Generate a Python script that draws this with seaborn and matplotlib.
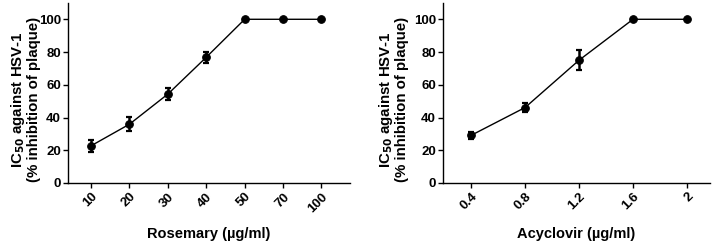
import matplotlib
matplotlib.use("Agg")
import matplotlib.pyplot as plt
import seaborn as sns
import pandas as pd
import numpy as np

# Data
rosemary_conc = ["10", "20", "30", "40", "50", "70", "100"]
rosemary_mean = [22.7, 35.9, 54.3, 76.8, 100, 100, 100]
rosemary_sd = [3.6, 4.2, 3.6, 3.4, 0, 0, 0]

acyclovir_conc = [0.4, 0.8, 1.2, 1.6, 2.0]
acyclovir_labels = ["0.4", "0.8", "1.2", "1.6", "2"]
acyclovir_mean = [29.1, 46.1, 75.0, 100, 100]
acyclovir_sd = [2.0, 2.9, 6.0, 0, 0]

yticks = [0, 20, 40, 60, 80, 100]

sns.set_style("ticks")
plt.rcParams['font.family'] = ['Liberation Sans', 'DejaVu Sans']
plt.rcParams['font.weight'] = 'bold'
plt.rcParams['axes.linewidth'] = 1.0
plt.rcParams['xtick.major.width'] = 1.0
plt.rcParams['ytick.major.width'] = 1.0
plt.rcParams['xtick.major.size'] = 3.5
plt.rcParams['ytick.major.size'] = 3.5
plt.rcParams['xtick.color'] = 'black'
plt.rcParams['ytick.color'] = 'black'
plt.rcParams['axes.edgecolor'] = 'black'
plt.rcParams['axes.labelcolor'] = 'black'
plt.rcParams['text.color'] = 'black'

fig = plt.figure(figsize=(7.2, 2.43), dpi=100)
ax1 = fig.add_axes([0.0944, 0.247, 0.3916, 0.741])
ax2 = fig.add_axes([0.615, 0.247, 0.371, 0.741])

ylabel = "IC$_{\\mathbf{50}}$ against HSV-1\n(% inhibition of plaque)"
fs_tick = 9.5
fs_xlabel = 10.5
fs_ylabel = 10.8

# Left panel (categorical)
df1 = pd.DataFrame({"conc": rosemary_conc, "mean": rosemary_mean, "sd": rosemary_sd})
pos1 = np.arange(len(rosemary_conc))
df1["pos"] = pos1
sns.lineplot(data=df1, x="pos", y="mean", ax=ax1, color="black", marker="o",
             markersize=5.5, markeredgecolor="black", linewidth=1.0)
ax1.errorbar(df1["pos"], df1["mean"], yerr=df1["sd"], fmt="none", ecolor="black",
             elinewidth=1.8, capsize=2.5, capthick=1.6)
ax1.set_xticks(pos1)
ax1.set_xticklabels(rosemary_conc, rotation=45, fontsize=fs_tick, fontweight="bold",
                    ha="right", rotation_mode="anchor")
ax1.set_xlim(-0.6, len(rosemary_conc) - 1 + 0.74)
ax1.set_xlabel("Rosemary (\u00b5g/ml)", fontsize=fs_xlabel, fontweight="bold")

# Right panel (numeric)
df2 = pd.DataFrame({"conc": acyclovir_conc, "mean": acyclovir_mean, "sd": acyclovir_sd})
sns.lineplot(data=df2, x="conc", y="mean", ax=ax2, color="black", marker="o",
             markersize=5.5, markeredgecolor="black", linewidth=1.0)
ax2.errorbar(df2["conc"], df2["mean"], yerr=df2["sd"], fmt="none", ecolor="black",
             elinewidth=1.8, capsize=2.5, capthick=1.6)
ax2.set_xticks(acyclovir_conc)
ax2.set_xticklabels(acyclovir_labels, rotation=45, fontsize=fs_tick, fontweight="bold",
                    ha="right", rotation_mode="anchor")
ax2.set_xlim(0.19, 2.17)
ax2.set_xlabel("Acyclovir (\u00b5g/ml)", fontsize=fs_xlabel, fontweight="bold")

for ax in (ax1, ax2):
    ax.set_ylim(0, 110)
    ax.set_yticks(yticks)
    ax.set_yticklabels([str(t) for t in yticks], fontsize=fs_tick, fontweight="bold")
    ax.set_ylabel(ylabel, fontsize=fs_ylabel, fontweight="bold", linespacing=1.0,
                  color="black")
    ax.xaxis.label.set_color("black")
    ax.spines["top"].set_visible(False)
    ax.spines["right"].set_visible(False)
    ax.tick_params(axis="x", pad=2)
    ax.tick_params(axis="y", pad=1.5)
    ax.xaxis.label.set_va("center")
    ax.xaxis.set_label_coords(0.5, -0.285)
    ax.yaxis.label.set_va("center")

# label center x in pixels: left ~25 (ax1 starts at 68), right ~393 (ax2 starts at 443)
ax1.yaxis.set_label_coords((25 - 68) / 282.0, 0.464)
ax2.yaxis.set_label_coords((393 - 443) / 267.0, 0.464)

fig.savefig("out.png", dpi=100)
